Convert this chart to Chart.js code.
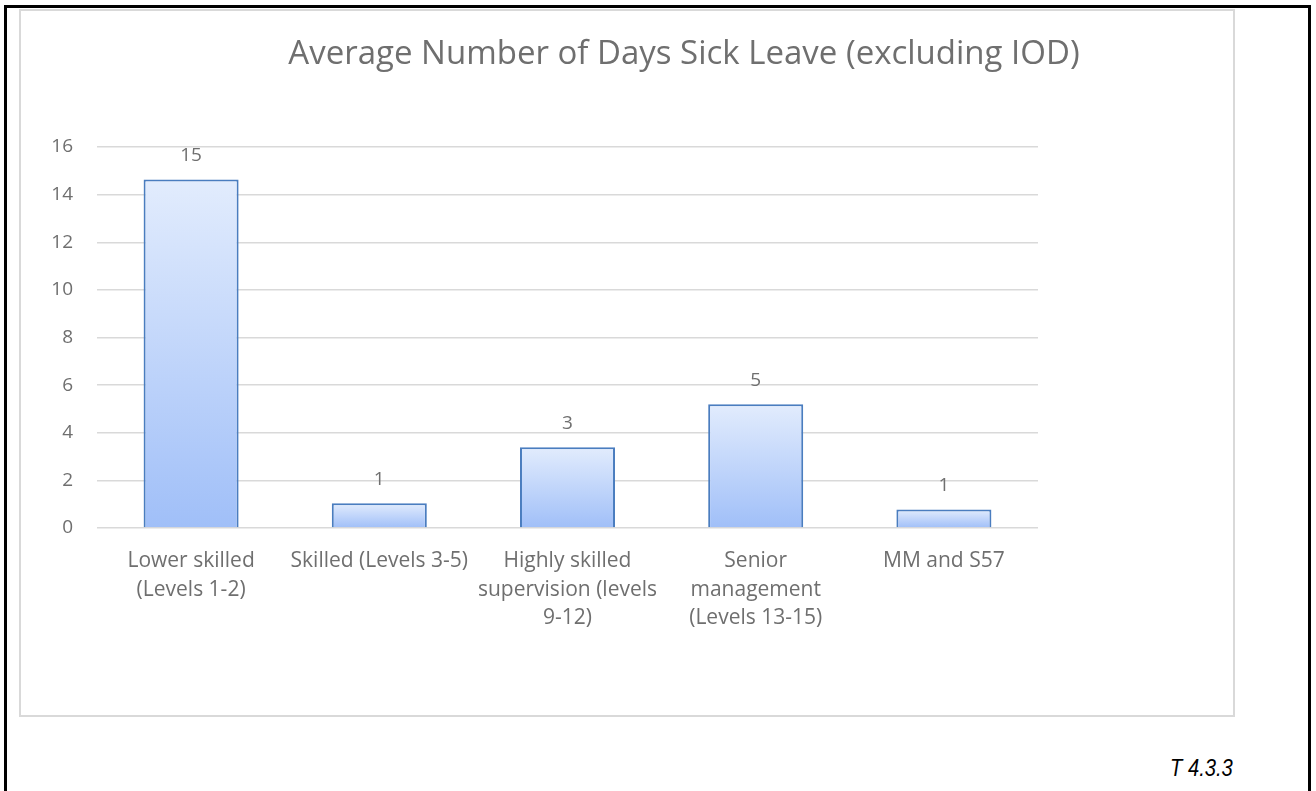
<!DOCTYPE html>
<html>
<head>
<meta charset="utf-8">
<script src="https://cdn.jsdelivr.net/npm/chart.js@4.4.1/dist/chart.umd.min.js"></script>
<style>
  html, body { margin: 0; padding: 0; background: #fff; }
  body { width: 1316px; height: 791px; overflow: hidden; position: relative; }
  #frame {
    position: absolute; left: 4px; top: 5px; width: 1301px; height: 820px;
    border: 3px solid #000;
  }
  #box {
    position: absolute; left: 19px; top: 9px; width: 1212px; height: 704px;
    border: 2px solid #d9d9d9;
  }
  #box canvas { position: absolute; left: 0; top: 0; }
  #note {
    position: absolute; left: 1170px; top: 754px;
    font-family: "Liberation Sans Narrow", "Arial Narrow", "Liberation Sans", sans-serif;
    font-style: italic; font-size: 24px; color: #000;
    transform: scaleX(0.84); transform-origin: left top;
  }
</style>
</head>
<body>
<div id="frame"></div>
<div id="box"><canvas id="chart" width="1212" height="704"></canvas></div>
<div id="note">T 4.3.3</div>
<script>
// Chart data
const chartTitle = 'Average Number of Days Sick Leave (excluding IOD)';
const categories = [
    ['Lower skilled', '(Levels 1-2)'],
    'Skilled (Levels 3-5)',
    ['Highly skilled', 'supervision (levels', '9-12)'],
    ['Senior', 'management', '(Levels 13-15)'],
    'MM and S57'
];
const sickDays = [14.63, 1.04, 3.39, 5.2, 0.78];
const yTicks = [0, 2, 4, 6, 8, 10, 12, 14, 16];

const textColor = '#6f6f6f';
const fontFamily = '"Open Sans", "Noto Sans", sans-serif';

// Each bar gets its own top-to-bottom gradient, like the Excel fill
function barGradient(context) {
    const chart = context.chart;
    if (!chart.chartArea || context.type !== 'data') return '#c2d6fa';
    const yScale = chart.scales.y;
    const top = yScale.getPixelForValue(context.raw);
    const bottom = yScale.getPixelForValue(0);
    const g = chart.ctx.createLinearGradient(0, top, 0, bottom);
    g.addColorStop(0, '#e2ecfd');
    g.addColorStop(1, '#a0bff8');
    return g;
}

// Value labels above the bars (rounded, as in the original)
const valueLabels = {
    id: 'valueLabels',
    afterDatasetsDraw(chart) {
        const ctx = chart.ctx;
        const meta = chart.getDatasetMeta(0);
        ctx.save();
        ctx.font = '19px ' + fontFamily;
        ctx.fillStyle = textColor;
        ctx.textAlign = 'center';
        ctx.textBaseline = 'middle';
        meta.data.forEach((bar, i) => {
            ctx.fillText(String(Math.round(sickDays[i])), bar.x, bar.y - 24);
        });
        ctx.restore();
    }
};

// Title sits off-centre in the original, so draw it by hand
const titleText = {
    id: 'titleText',
    afterDraw(chart) {
        const ctx = chart.ctx;
        ctx.save();
        ctx.font = '33px ' + fontFamily;
        ctx.fillStyle = textColor;
        ctx.textAlign = 'center';
        ctx.textBaseline = 'alphabetic';
        ctx.fillText(chartTitle, 663, 53);
        ctx.restore();
    }
};

new Chart(document.getElementById('chart'), {
    type: 'bar',
    data: {
        labels: categories,
        datasets: [{
            data: sickDays,
            backgroundColor: barGradient,
            borderColor: '#4a7dbf',
            borderWidth: 2,
            borderSkipped: 'bottom',
            categoryPercentage: 0.505,
            barPercentage: 1
        }]
    },
    options: {
        responsive: false,
        animation: false,
        layout: { padding: { left: 0, right: 195, top: 136, bottom: 0 } },
        plugins: {
            legend: { display: false },
            tooltip: { enabled: false },
            title: { display: false }
        },
        scales: {
            x: {
                grid: { display: false, drawTicks: false },
                border: { display: false },
                ticks: {
                    color: textColor,
                    font: { family: fontFamily, size: 21, lineHeight: 1.36 },
                    padding: 19,
                    maxRotation: 0,
                    autoSkip: false
                },
                afterFit(scale) { scale.height = 187; }
            },
            y: {
                min: 0,
                max: 16,
                afterBuildTicks(scale) {
                    scale.ticks = yTicks.map(v => ({ value: v }));
                },
                grid: { color: '#d9d9d9', lineWidth: 1.5, drawTicks: false },
                border: { display: false },
                ticks: {
                    color: textColor,
                    font: { family: fontFamily, size: 19 },
                    padding: 24
                },
                afterFit(scale) { scale.width = 76; }
            }
        }
    },
    plugins: [valueLabels, titleText]
});
</script>
</body>
</html>
